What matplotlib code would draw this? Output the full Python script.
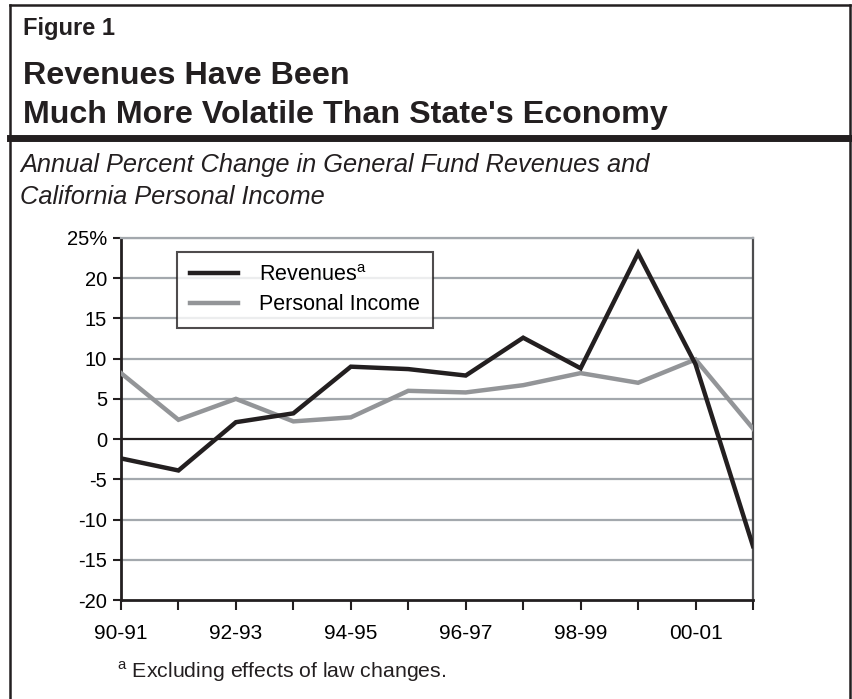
import numpy as np
import matplotlib.pyplot as plt
from matplotlib.lines import Line2D

plt.rcParams['font.family'] = ['Liberation Sans', 'DejaVu Sans']
plt.rcParams['mathtext.fontset'] = 'custom'
plt.rcParams['mathtext.rm'] = 'Liberation Sans'

# fiscal years 90-91 .. 01-02
years = ['90-91', '91-92', '92-93', '93-94', '94-95', '95-96',
         '96-97', '97-98', '98-99', '99-00', '00-01', '01-02']
revenues = [-2.4, -3.9, 2.1, 3.2, 9.0, 8.7, 7.9, 12.6, 8.8, 23.1, 9.3, -13.3]
personal_income = [8.2, 2.4, 5.0, 2.2, 2.7, 6.0, 5.8, 6.7, 8.2, 7.0, 9.9, 1.3]
y_ticks = [-20, -15, -10, -5, 0, 5, 10, 15, 20, 25]
y_labels = ['-20', '-15', '-10', '-5', '0', '5', '10', '15', '20', '25%']

fig = plt.figure(figsize=(8.52, 6.99), dpi=100)
ax = fig.add_axes([0.1420, 0.1416, 0.7418, 0.518])

x = np.arange(len(years))

# gridlines
for v in y_ticks:
    if v == 0:
        ax.axhline(v, color='#231f20', lw=1.6, zorder=2)
    elif v != -20:
        ax.axhline(v, color='#a3a8ad', lw=1.6, zorder=1)

ax.plot(x, personal_income, color='#939598', lw=3.2, label='Personal Income', zorder=3,
        solid_joinstyle='miter')
ax.plot(x, revenues, color='#231f20', lw=3.2, label='Revenues$^{\\mathrm{a}}$', zorder=4,
        solid_joinstyle='miter')

ax.set_xlim(0, len(years) - 1)
ax.set_ylim(-20, 25)
ax.set_yticks(y_ticks)
ax.set_yticklabels(y_labels, fontsize=14.5)
ax.set_xticks(x)
ax.set_xticklabels([y if i % 2 == 0 else '' for i, y in enumerate(years)], fontsize=15)
ax.tick_params(axis='x', length=7, width=1.5, direction='out', pad=10, color='#231f20')
ax.tick_params(axis='y', length=6, width=1.5, direction='out', pad=4, color='#231f20')

for s in ['left', 'bottom']:
    ax.spines[s].set_linewidth(2)
    ax.spines[s].set_color('#231f20')
ax.spines['right'].set_linewidth(1.6)
ax.spines['right'].set_color('#4d4d4f')
ax.spines['top'].set_linewidth(1.6)
ax.spines['top'].set_color('#a3a8ad')

h, l = ax.get_legend_handles_labels()
leg = ax.legend(h[::-1], l[::-1], loc='upper left', bbox_to_anchor=(0.089, 0.962),
                fontsize=15.5, frameon=True, fancybox=False, edgecolor='#231f20',
                handlelength=2.2, handletextpad=1.0, borderpad=0.6, labelspacing=0.4,
                borderaxespad=0)
leg.get_frame().set_linewidth(1.5)

# outer frame and title block
fig.add_artist(Line2D([0.012, 0.012], [0, 0.993], transform=fig.transFigure, color='#231f20', lw=1.8))
fig.add_artist(Line2D([0.012, 0.998], [0.993, 0.993], transform=fig.transFigure, color='#231f20', lw=1.8))
fig.add_artist(Line2D([0.998, 0.998], [0, 0.993], transform=fig.transFigure, color='#231f20', lw=1.8))
fig.add_artist(Line2D([0.012, 1.0], [0.802, 0.802], transform=fig.transFigure, color='#231f20', lw=5))

fig.text(0.027, 1 - 35 / 699, 'Figure 1', fontsize=17, fontweight='bold', va='baseline',
         color='#231f20')
fig.text(0.027, 1 - 84 / 699, 'Revenues Have Been', fontsize=23.2, fontweight='bold',
         va='baseline', color='#231f20')
fig.text(0.027, 1 - 123 / 699, "Much More Volatile Than State's Economy", fontsize=23.2,
         fontweight='bold', va='baseline', color='#231f20')
fig.text(0.024, 1 - 172 / 699, 'Annual Percent Change in General Fund Revenues and',
         fontsize=18.3, style='italic', va='baseline', color='#231f20')
fig.text(0.024, 1 - 204 / 699, 'California Personal Income', fontsize=18.3, style='italic',
         va='baseline', color='#231f20')
fig.text(0.137, 1 - 678 / 699, '$^{\\mathrm{a}}$ Excluding effects of law changes.',
         fontsize=15.3, va='baseline', color='#231f20')

fig.savefig('out.png', dpi=100)
